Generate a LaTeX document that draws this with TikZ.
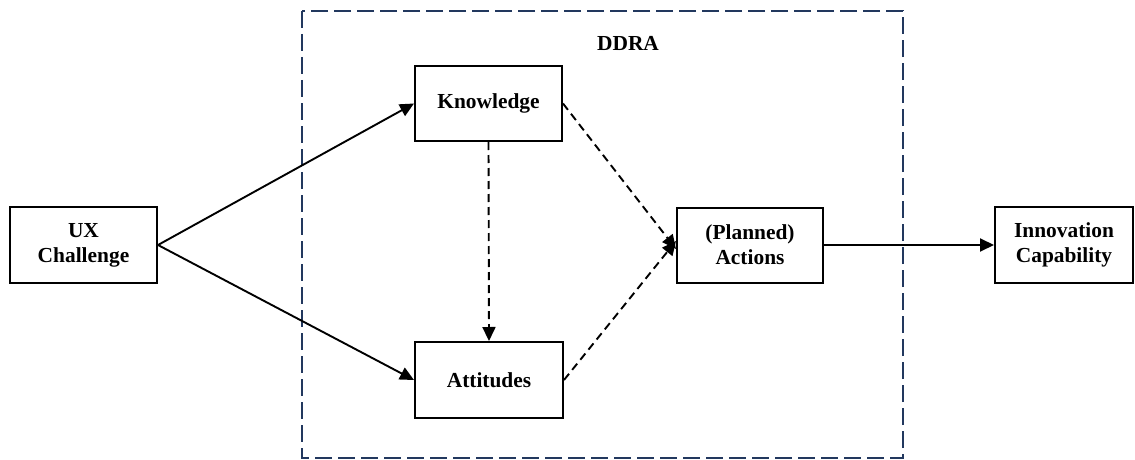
\documentclass[tikz,border=0pt]{standalone}
\usepackage{fontspec}
\setmainfont{Liberation Serif}
\usetikzlibrary{arrows.meta}
\definecolor{framecol}{HTML}{22385E}
\begin{document}
\begin{tikzpicture}[x=1pt,y=-1pt,
  box/.style={draw, line width=2pt, inner sep=0pt, align=center,
    font=\fontsize{21.4}{25}\selectfont\bfseries},
  lbl/.style={inner sep=0pt, font=\fontsize{21.4}{25}\selectfont\bfseries},
  arr/.style={line width=1.9pt, -{Triangle[length=14pt,width=13pt]}},
  darr/.style={arr, dash pattern=on 8pt off 5pt},
  frameline/.style={draw=framecol, line width=2pt, dash pattern=on 17pt off 6pt}]
\useasboundingbox (0,0) rectangle (1135,460);
\draw[frameline] (302,11) rectangle (903,458);
\node[lbl] (ddra) at (628,43) {DDRA};
\node[box, minimum width=147pt, minimum height=76pt] (ux) at (83.5,245) {UX\\Challenge};
\node[box, minimum width=147pt, minimum height=75pt] (know) at (488.5,103.5) {Knowledge};
\node[box, minimum width=148pt, minimum height=76pt] (att) at (489,380) {Attitudes};
\node[box, minimum width=146pt, minimum height=75pt] (act) at (750,245) {(Planned)\\Actions};
\node[box, minimum width=138pt, minimum height=76pt] (inn) at (1064,245) {Innovation\\Capability};
\coordinate (acttop) at ([yshift=-4pt]act.west);
\coordinate (actbot) at ([yshift=4pt]act.west);
\draw[arr] (ux.east) -- (know.west);
\draw[arr] (ux.east) -- (att.west);
\draw[darr] (know.south) -- (att.north);
\draw[darr] (know.east) -- (acttop);
\draw[darr] (att.east) -- (actbot);
\draw[arr] (act.east) -- (inn.west);
\end{tikzpicture}
\end{document}
